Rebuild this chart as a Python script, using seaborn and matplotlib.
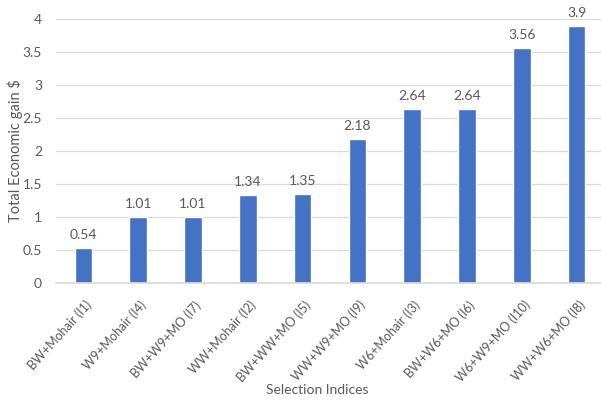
import matplotlib
matplotlib.use("Agg")
import matplotlib.pyplot as plt
import matplotlib.transforms as mtransforms
import seaborn as sns
import pandas as pd

categories = ["BW+Mohair (I1)", "W9+Mohair (I4)", "BW+W9+MO (I7)", "WW+Mohair (I2)",
              "BW+WW+MO (I5)", "WW+W9+MO (I9)", "W6+Mohair (I3)", "BW+W6+MO (I6)",
              "W6+W9+MO (I10)", "WW+W6+MO (I8)"]
values = [0.54, 1.01, 1.01, 1.34, 1.35, 2.18, 2.64, 2.64, 3.56, 3.9]
value_labels = ["0.54", "1.01", "1.01", "1.34", "1.35", "2.18", "2.64", "2.64", "3.56", "3.9"]
yticks = [0, 0.5, 1, 1.5, 2, 2.5, 3, 3.5, 4]
ytick_labels = ["0", "0.5", "1", "1.5", "2", "2.5", "3", "3.5", "4"]

sns.set_theme(style="white")
plt.rcParams['font.family'] = ['Lato', 'DejaVu Sans']
text_color = "#595959"

df = pd.DataFrame({"cat": categories, "val": values})

fig = plt.figure(figsize=(6.01, 4.0), dpi=100)
ax = fig.add_axes([0.093, 0.292, 0.912, 0.66])
sns.barplot(data=df, x="cat", y="val", color="#4472C4", width=0.32, saturation=1, ax=ax)

ax.set_ylim(0, 4)
ax.set_yticks(yticks)
ax.set_yticklabels(ytick_labels, fontsize=10, color=text_color)
ax.yaxis.grid(True, color="#D9D9D9", linewidth=0.9)
ax.set_axisbelow(True)
for s in ["top", "right", "left"]:
    ax.spines[s].set_visible(False)
ax.spines["bottom"].set_color("#D9D9D9")
ax.tick_params(axis="y", length=0, pad=10)
ax.tick_params(axis="x", length=0, pad=4)

ax.set_xticks(range(len(categories)))
ax.set_xticklabels(categories, rotation=48, ha="right", va="center",
                   rotation_mode="anchor", fontsize=9, color=text_color)
offset = mtransforms.ScaledTranslation(0.06, -0.14, fig.dpi_scale_trans)
for lab in ax.get_xticklabels():
    lab.set_transform(lab.get_transform() + offset)

for i, (v, lab) in enumerate(zip(values, value_labels)):
    ax.annotate(lab, (i, v), xytext=(0, 5), textcoords="offset points",
                ha="center", va="bottom", fontsize=10, color=text_color)

ax.set_xlabel("")
ax.set_ylabel("")
fig.text(317 / 601, 1 - 390 / 400, "Selection Indices", ha="center", va="center",
         fontsize=10, color=text_color)
fig.text(15 / 601, 1 - 151 / 400, "Total Economic gain $", ha="center", va="center",
         rotation=90, fontsize=10.5, color=text_color)

fig.savefig("out.png", dpi=100)
